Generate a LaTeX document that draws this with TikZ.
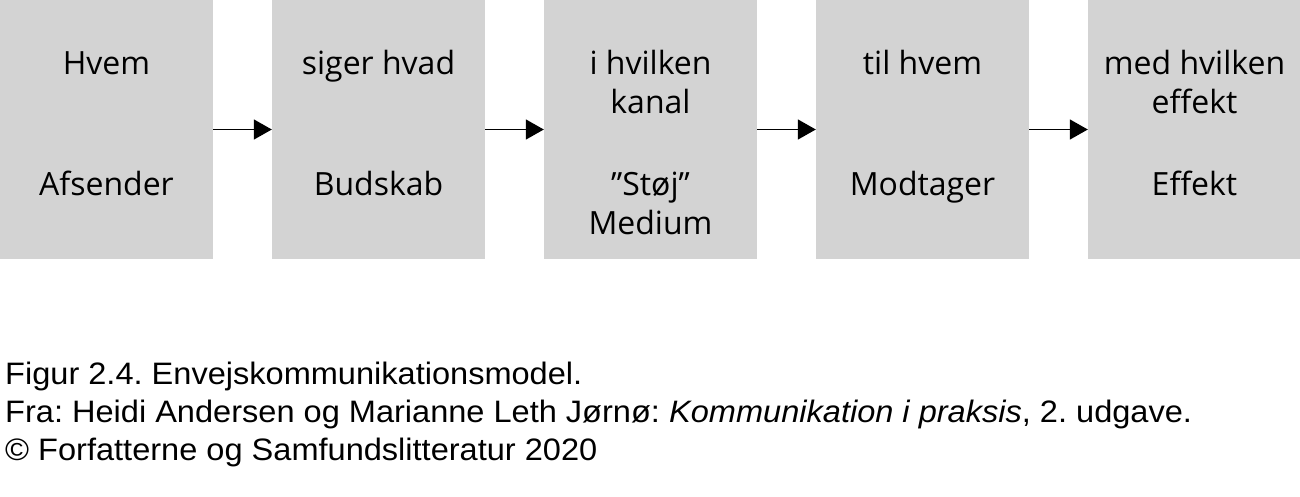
\documentclass[tikz,border=0pt]{standalone}
\usepackage{fontspec}
\setmainfont{Open Sans}
\newfontfamily\figcaption[FakeStretch = 1.05]{Liberation Sans}
\usetikzlibrary{arrows.meta}
\definecolor{boksgraa}{RGB}{211, 211, 211}
\frenchspacing

\begin{document}
\begin{tikzpicture}[x = 1pt, y = 1pt,
            boks/.style = {fill = boksgraa, minimum width = 213pt, minimum height = 259pt, inner sep = 0pt},
            tekst/.style = {align = center, anchor = base, inner sep = 0pt, font = \fontsize{32}{39}\selectfont},
            pil/.style = {black, line width = 1.5pt, -{Triangle[length = 18pt, width = 20pt]}},
            fig/.style = {anchor = base west, inner sep = 0pt, font = \figcaption\fontsize{31}{38}\selectfont}]
            \useasboundingbox (0, 0) rectangle (1300, -496);
            
            \node[boks] (afsender) at (106.5, -129.5) {};
            \node[boks] (budskab) at (378.5, -129.5) {};
            \node[boks] (medium) at (650.5, -129.5) {};
            \node[boks] (modtager) at (922.5, -129.5) {};
            \node[boks] (effekt) at (1194.5, -129.5) {};
            
            \node[tekst] (hvem) at (106.5, -74) {Hvem};
            \node[tekst] (afsendertekst) at (106.5, -195) {Afsender};
            \node[tekst] (hvad) at (378.5, -74) {siger hvad};
            \node[tekst] (budskabtekst) at (378.5, -195) {Budskab};
            \node[tekst] (kanal) at (650.5, -113) {i hvilken\\kanal};
            \node[tekst] (mediumtekst) at (650.5, -234) {”Støj”\\Medium};
            \node[tekst] (tilhvem) at (922.5, -74) {til hvem};
            \node[tekst] (modtagertekst) at (922.5, -195) {Modtager};
            \node[tekst] (hvilkeneffekt) at (1194.5, -113) {med hvilken\\effekt};
            \node[tekst] (effekttekst) at (1194.5, -195) {Effekt};
            
            \draw[pil] (afsender.east) -- (budskab.west);
            \draw[pil] (budskab.east) -- (medium.west);
            \draw[pil] (medium.east) -- (modtager.west);
            \draw[pil] (modtager.east) -- (effekt.west);
            
            \node[fig] (figur) at (5, -384) {Figur 2.4. Envejskommunikationsmodel.};
            \node[fig] (kilde) at (5, -422) {Fra: Heidi Andersen og Marianne Leth Jørnø: \textit{Kommunikation i praksis}, 2. udgave.};
            \node[fig] (copyright) at (5, -460) {© Forfatterne og Samfundslitteratur 2020};
        \end{tikzpicture}
\end{document}
